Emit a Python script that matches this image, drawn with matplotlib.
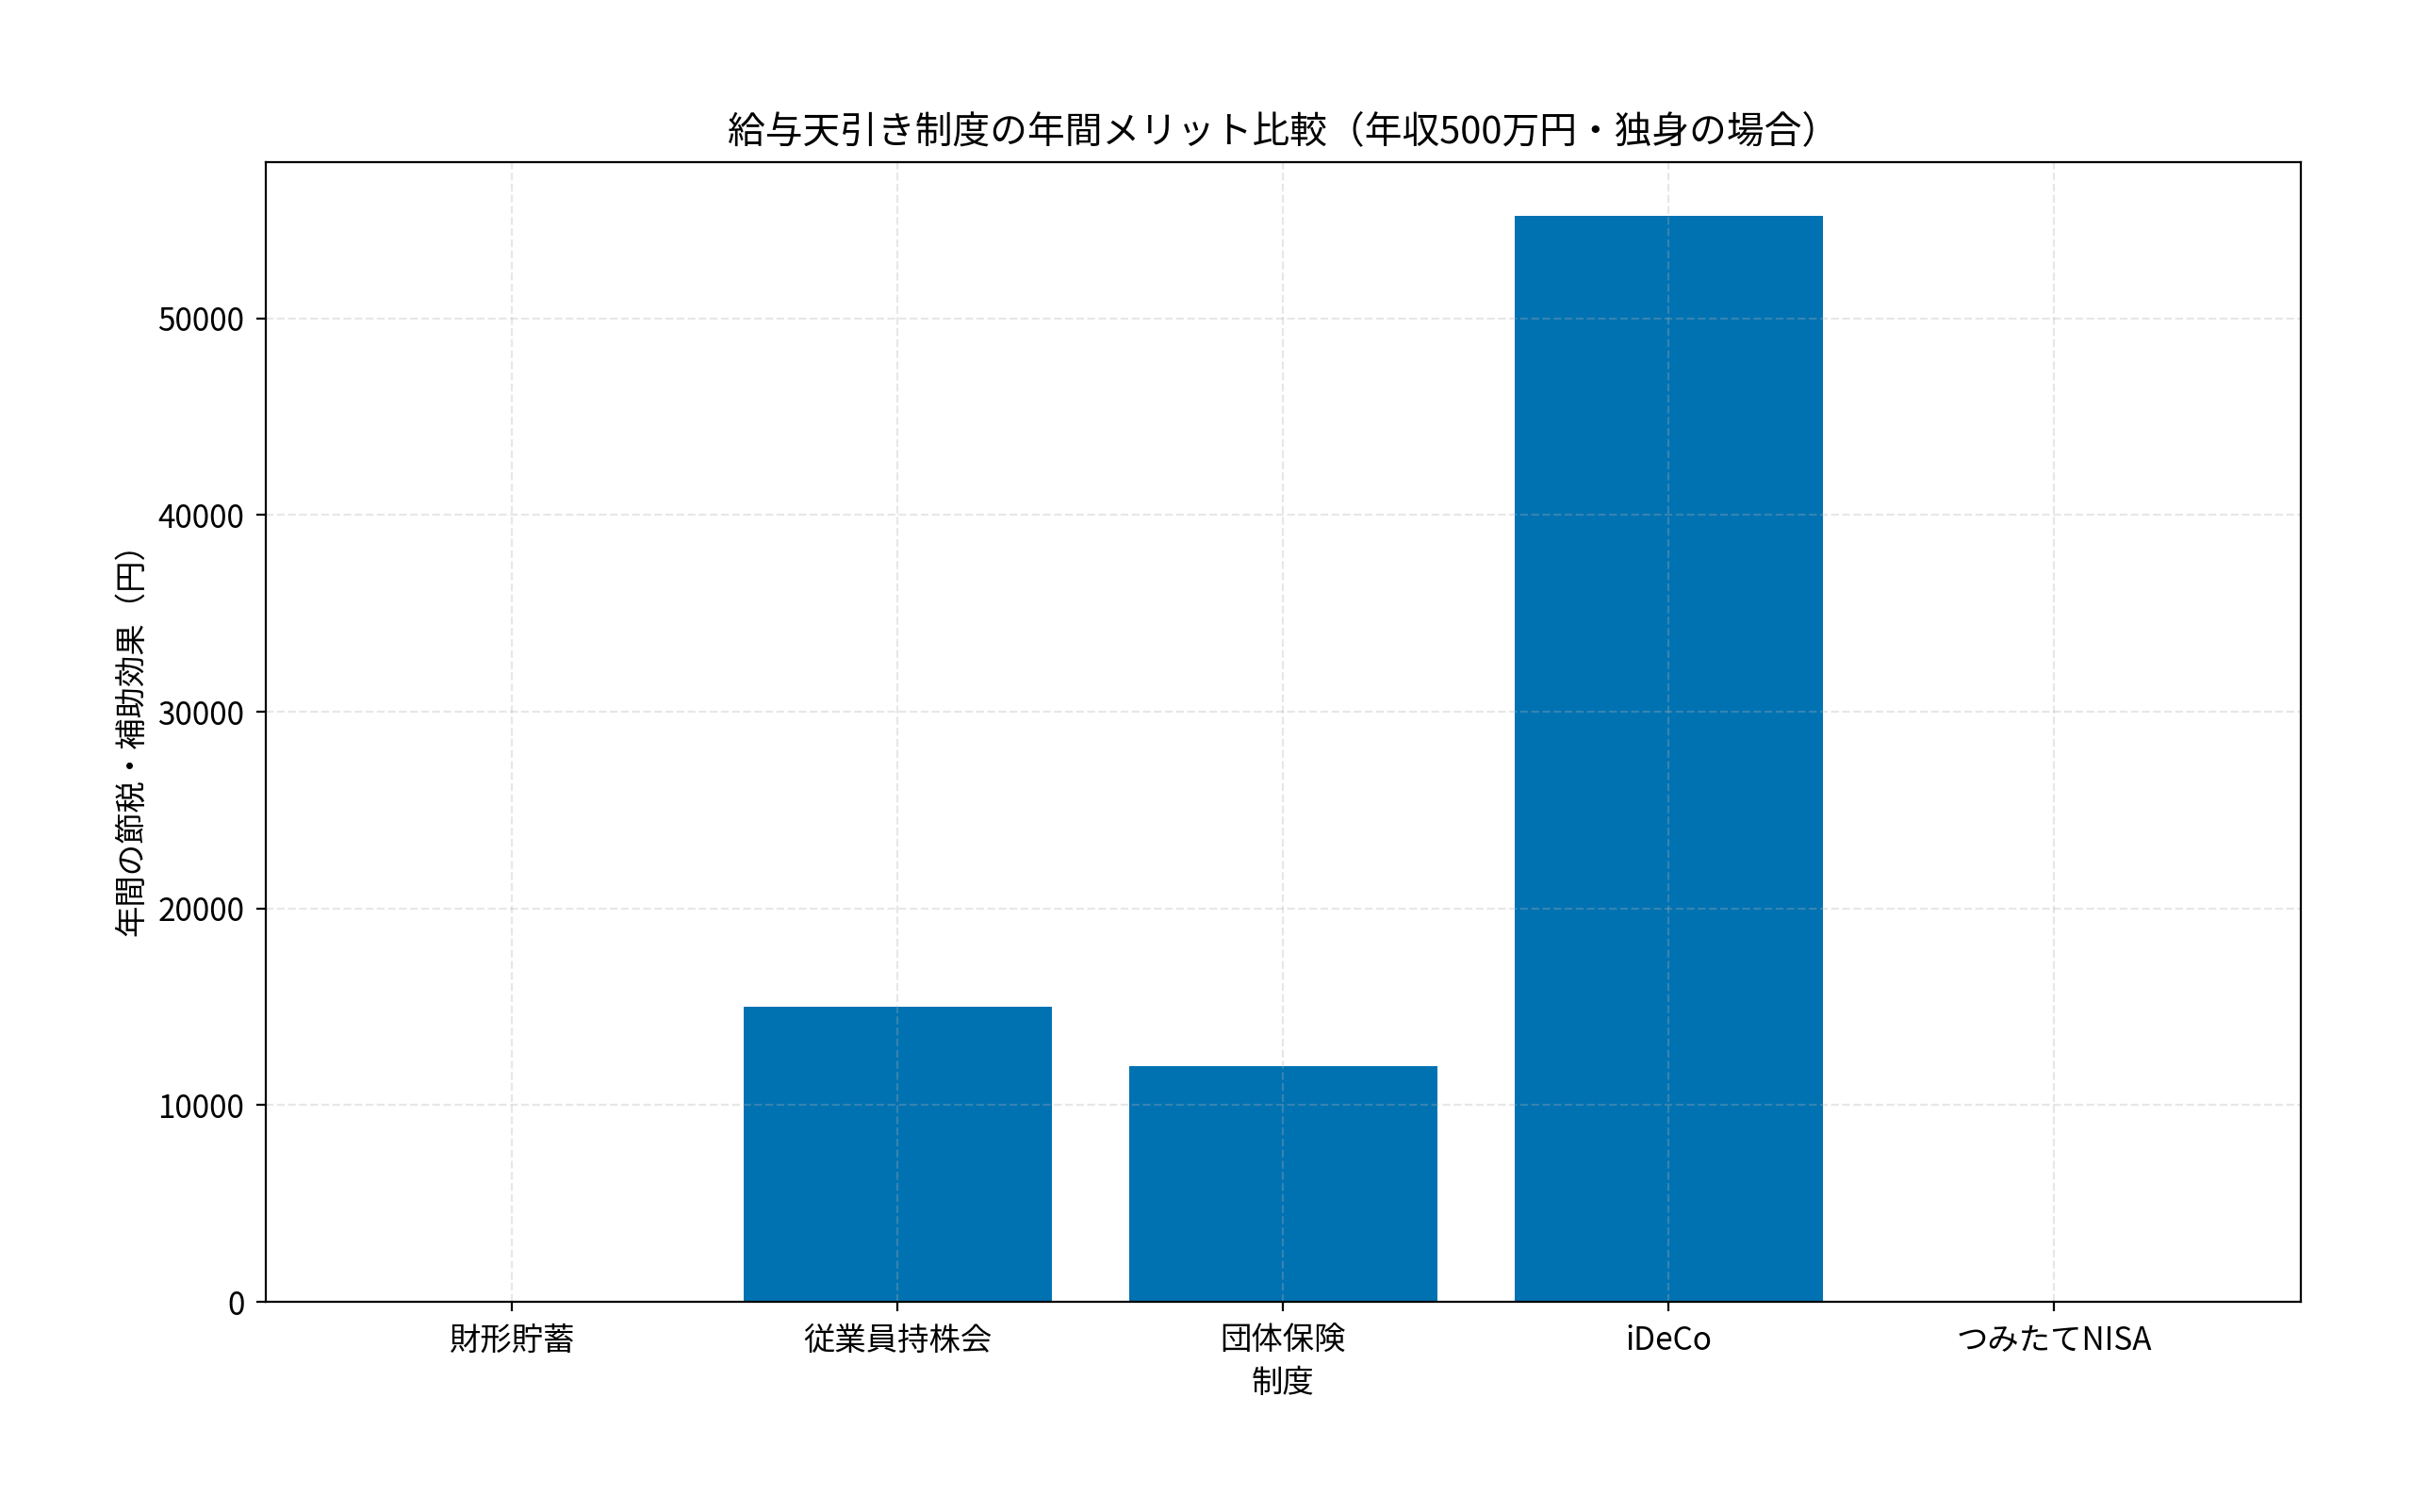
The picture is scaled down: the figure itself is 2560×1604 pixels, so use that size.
import matplotlib
matplotlib.use('Agg')
from matplotlib import pyplot as plt

plt.rcParams['font.family'] = ['Noto Sans CJK JP', 'DejaVu Sans']

categories = ['財形貯蓄', '従業員持株会', '団体保険', 'iDeCo', 'つみたてNISA']
merits = [0, 15000, 12000, 55200, 0]

fig, ax = plt.subplots(figsize=(12.8, 8.02), dpi=200)
fig.subplots_adjust(left=0.110, right=0.9535, bottom=0.139, top=0.893)

ax.bar(categories, merits, color='#0072B2', width=0.8)
ax.grid(True, linestyle='--', alpha=0.3)

ax.set_title('給与天引き制度の年間メリット比較（年収500万円・独身の場合）', fontsize=14.3, pad=7.5)
ax.set_xlabel('制度', fontsize=12, labelpad=3.5)
ax.set_ylabel('年間の節税・補助効果（円）', fontsize=12, labelpad=3.5)
ax.tick_params(axis='x', labelsize=12, pad=5.2)
ax.tick_params(axis='y', labelsize=12, pad=4.5)

fig.savefig('out.png', dpi=200)
